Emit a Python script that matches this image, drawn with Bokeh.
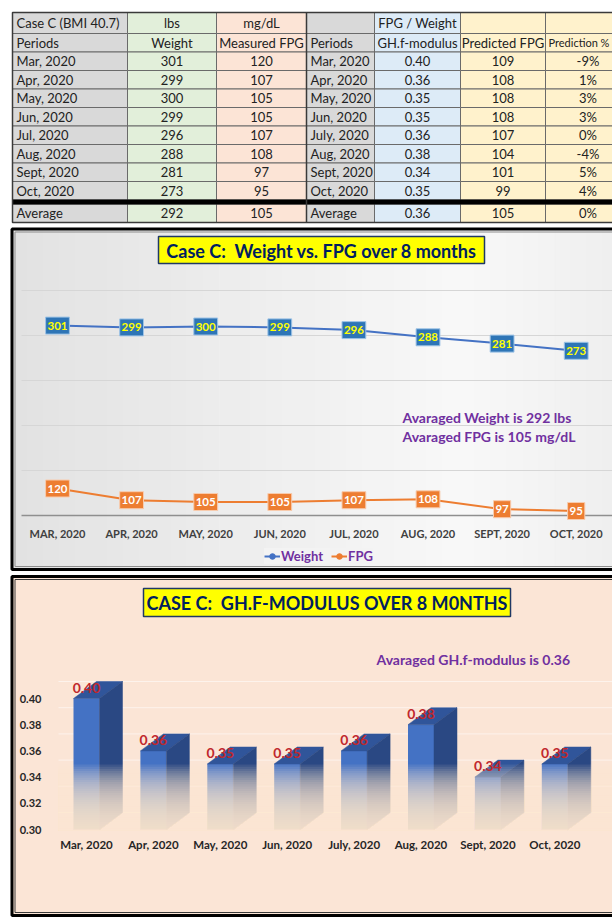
from bokeh.plotting import figure
from bokeh.layouts import column
from bokeh.models import (Range1d, LinearAxis, FixedTicker, Legend, LegendItem,
                          ColumnDataSource, PrintfTickFormatter)
from bokeh.embed import file_html
from bokeh.resources import INLINE
from bokeh.core.properties import value

# ---------------- data ----------------
table_head_top = ["Case C (BMI 40.7)", "lbs", "mg/dL", "", "FPG / Weight", "", ""]
table_head_sub = ["Periods", "Weight", "Measured FPG", "Periods", "GH.f-modulus",
                  "Predicted FPG", "Prediction %"]
periods_left = ["Mar, 2020", "Apr, 2020", "May, 2020", "Jun, 2020", "Jul, 2020",
                "Aug, 2020", "Sept, 2020", "Oct, 2020"]
periods_right = ["Mar, 2020", "Apr, 2020", "May, 2020", "Jun, 2020", "July, 2020",
                 "Aug, 2020", "Sept, 2020", "Oct, 2020"]
weight = [301, 299, 300, 299, 296, 288, 281, 273]
fpg = [120, 107, 105, 105, 107, 108, 97, 95]
gh_modulus = [0.40, 0.36, 0.35, 0.35, 0.36, 0.38, 0.34, 0.35]
predicted_fpg = [109, 108, 108, 108, 107, 104, 101, 99]
prediction_pct = ["-9%", "1%", "3%", "3%", "0%", "-4%", "5%", "4%"]
average_row = ["Average", "292", "105", "Average", "0.36", "105", "0%"]

line_months = ["MAR, 2020", "APR, 2020", "MAY, 2020", "JUN, 2020", "JUL, 2020",
               "AUG, 2020", "SEPT, 2020", "OCT, 2020"]
line_ticks = [90, 140, 190, 240, 290, 340]
bar_months = ["Mar, 2020", "Apr, 2020", "May, 2020", "Jun, 2020", "July, 2020",
              "Aug, 2020", "Sept, 2020", "Oct, 2020"]
bar_ticks = [0.30, 0.32, 0.34, 0.36, 0.38, 0.40]

avg_weight = 292
avg_fpg = 105
avg_modulus = 0.36

line_title = "Case C: \u00a0Weight vs. FPG over 8 months"
bar_title = "CASE C: \u00a0GH.F-MODULUS OVER 8 M0NTHS"

# ---------------- layout constants ----------------
W = 612
FONT = "Lato"
NAVY = "#002060"
PURPLE = "#7030A0"


def base_fig(h, xr, yr):
    p = figure(width=W, height=h, x_range=xr, y_range=yr, output_backend="svg",
               toolbar_location=None, x_axis_location=None, y_axis_location=None,
               min_border=0, min_border_left=0, min_border_right=0,
               min_border_top=0, min_border_bottom=0)
    p.outline_line_color = None
    p.grid.visible = False
    p.background_fill_color = "white"
    p.border_fill_color = "white"
    return p


def style_axis(ax, standoff, size, color):
    ax.axis_line_color = None
    ax.major_tick_line_color = None
    ax.minor_tick_line_color = None
    ax.major_tick_out = 0
    ax.major_tick_in = 0
    ax.minor_tick_out = 0
    ax.minor_tick_in = 0
    ax.major_label_standoff = standoff
    ax.major_label_text_font = FONT
    ax.major_label_text_font_style = "bold"
    ax.major_label_text_font_size = size
    ax.major_label_text_color = color


# ================= TABLE =================
H1 = 225
col_edges = [12, 127, 216, 306, 374, 460, 545, 640]
row_edges = [12, 33, 51.5, 70, 88.5, 107, 125.5, 144, 162.5, 181, 199.5]
band_edges = (199.5, 203.5)
avg_edges = (203.5, 222)
col_colors = ["#D9D9D9", "#E2EFDA", "#FCE4D6", "#D9D9D9", "#DDEBF7", "#FFF2CC", "#FFF2CC"]
left_aligned_cols = {0, 3}
col7_center = 587.5

rows = [table_head_top, table_head_sub]
for i in range(len(periods_left)):
    rows.append([periods_left[i], str(weight[i]), str(fpg[i]), periods_right[i],
                 f"{gh_modulus[i]:.2f}", str(predicted_fpg[i]), prediction_pct[i]])
rows.append(average_row)

cells = dict(l=[], r=[], t=[], b=[], c=[])
txt_l = dict(x=[], y=[], t=[], fs=[])
txt_c = dict(x=[], y=[], t=[], fs=[])
for ri, row in enumerate(rows):
    if ri < len(row_edges) - 1:
        top, bot = row_edges[ri], row_edges[ri + 1]
    else:
        top, bot = avg_edges
    for ci, txt in enumerate(row):
        l, r = col_edges[ci], col_edges[ci + 1]
        cells["l"].append(l); cells["r"].append(r)
        cells["t"].append(top); cells["b"].append(bot)
        cells["c"].append(col_colors[ci])
        yc = (top + bot) / 2
        if ci in left_aligned_cols:
            txt_l["x"].append(l + 4); txt_l["y"].append(yc); txt_l["t"].append(txt)
            txt_l["fs"].append("13px")
        elif ci == len(row) - 1 and len(txt) > 6:
            # long header in the last (cut) column: left aligned, slightly smaller
            txt_l["x"].append(l + 3); txt_l["y"].append(yc); txt_l["t"].append(txt)
            txt_l["fs"].append("11px")
        else:
            xc = col7_center if ci == len(row) - 1 else (l + r) / 2
            txt_c["x"].append(xc); txt_c["y"].append(yc); txt_c["t"].append(txt)
            txt_c["fs"].append("13px")

p1 = base_fig(H1, Range1d(0, W), Range1d(H1, 0))
p1.quad(left="l", right="r", top="t", bottom="b", fill_color="c",
        line_color="#6A6A6A", line_width=1, source=ColumnDataSource(cells))
p1.quad(left=[col_edges[0]], right=[col_edges[-1]], top=[band_edges[0]],
        bottom=[band_edges[1]], fill_color="black", line_color="black")
p1.quad(left=[col_edges[0]], right=[col_edges[-1]], top=[row_edges[0]],
        bottom=[avg_edges[1]], fill_color=None, line_color="#3A3A3A", line_width=1.5)
p1.segment(x0=[col_edges[3]], x1=[col_edges[3]], y0=[row_edges[0]], y1=[avg_edges[1]],
           line_color="#3A3A3A", line_width=1.5)
for src, align in ((txt_l, "left"), (txt_c, "center")):
    p1.text(x="x", y="y", text="t", source=ColumnDataSource(src), text_align=align,
            text_baseline="middle", text_font=value(FONT), text_font_size="fs",
            text_color="#222222")

# ================= LINE CHART =================
H2 = 349
X0_2, DX_2 = 57.0, 74.1          # px of first category, px per category
Y0_2, KY_2 = 290.0, 0.9          # px of axis minimum, px per unit
V0_2 = line_ticks[0]
idx = list(range(len(line_months)))

p2 = base_fig(H2, Range1d(-X0_2 / DX_2, (W - X0_2) / DX_2),
              Range1d(V0_2 - (H2 - Y0_2) / KY_2, V0_2 + Y0_2 / KY_2))
p2.extra_x_ranges = {"px": Range1d(0, W)}
p2.extra_y_ranges = {"px": Range1d(H2, 0)}

# gray gradient background
ns = 40
gx = [11 + (650 - 11) * k / ns for k in range(ns + 1)]
gcol = []
for k in range(ns):
    c = (gx[k] + gx[k + 1]) / 2
    L = 226 + 22 * (c - 10) / 450 if c < 460 else 248 - 9 * (c - 460) / 152
    L = int(round(L))
    gcol.append(f"#{L:02x}{L:02x}{L:02x}")
p2.quad(left=gx[:-1], right=gx[1:], top=[4] * ns, bottom=[343] * ns,
        fill_color=gcol, line_color=gcol, x_range_name="px", y_range_name="px")
# panel border
p2.quad(left=[11.5], right=[650], top=[3.5], bottom=[344], fill_color=None,
        line_color="black", line_width=3, x_range_name="px", y_range_name="px")
p2.quad(left=[14.5], right=[650], top=[6.5], bottom=[341], fill_color=None,
        line_color="#8C8C8C", line_width=1, x_range_name="px", y_range_name="px")

# gridlines + baseline
p2.segment(x0=[21] * (len(line_ticks) - 1), x1=[650] * (len(line_ticks) - 1),
           y0=line_ticks[1:], y1=line_ticks[1:], line_color="#D6D6D6", line_width=1,
           x_range_name="px")
p2.segment(x0=[21], x1=[650], y0=[V0_2], y1=[V0_2], line_color="#8F8F8F",
           line_width=1.5, x_range_name="px")

# title box
p2.quad(left=[158], right=[484], top=[11], bottom=[38], fill_color="#FFFF00",
        line_color="#1F3864", line_width=1.5, x_range_name="px", y_range_name="px")
p2.text(x=[321], y=[25], text=[line_title], text_align="center", text_baseline="middle",
        text_font=value(FONT), text_font_style="bold", text_font_size="18px",
        text_color=NAVY, x_range_name="px", y_range_name="px")

# series
BLUE, ORANGE = "#4472C4", "#ED7D31"
rw = p2.line(idx, weight, line_color=BLUE, line_width=2)
rwp = p2.scatter(idx, weight, size=7, color=BLUE)
rf = p2.line(idx, fpg, line_color=ORANGE, line_width=2)
rfp = p2.scatter(idx, fpg, size=7, color=ORANGE)

wsrc = ColumnDataSource(dict(x=idx, y=weight, t=[str(v) for v in weight],
                             w=[4 + 6.6 * len(str(v)) for v in weight]))
fsrc = ColumnDataSource(dict(x=idx, y=fpg, t=[str(v) for v in fpg],
                             w=[4 + 6.6 * len(str(v)) for v in fpg]))
p2.rect(x="x", y="y", width="w", height=17, width_units="screen", height_units="screen",
        fill_color="#2E75B6", line_color="#9DC3E6", line_width=1, source=wsrc)
p2.text(x="x", y="y", text="t", text_align="center", text_baseline="middle",
        text_font=value(FONT), text_font_style="bold", text_font_size="11.5px",
        text_color="#FFFF00", source=wsrc)
p2.rect(x="x", y="y", width="w", height=17, width_units="screen", height_units="screen",
        fill_color=ORANGE, line_color="#F8CBAD", line_width=1, source=fsrc)
p2.text(x="x", y="y", text="t", text_align="center", text_baseline="middle",
        text_font=value(FONT), text_font_style="bold", text_font_size="11.5px",
        text_color="white", source=fsrc)

# averages note
p2.text(x=[402, 402], y=[192, 211],
        text=[f"Avaraged Weight is {avg_weight} lbs", f"Avaraged FPG is {avg_fpg} mg/dL"],
        text_align="left", text_baseline="middle", text_font=value(FONT),
        text_font_style="bold", text_font_size="14px", text_color=PURPLE,
        x_range_name="px", y_range_name="px")

# x axis
xax2 = LinearAxis(fixed_location=V0_2, ticker=FixedTicker(ticks=idx),
                  major_label_overrides={i: m for i, m in zip(idx, line_months)})
style_axis(xax2, 11, "11px", "#404040")
p2.add_layout(xax2, "below")

leg = Legend(items=[LegendItem(label="Weight", renderers=[rw, rwp]),
                    LegendItem(label="FPG", renderers=[rf, rfp])],
             orientation="horizontal", location=(264, 10))
leg.label_text_font = FONT
leg.label_text_font_style = "bold"
leg.label_text_font_size = "13px"
leg.label_text_color = PURPLE
leg.background_fill_color = "#F3F3F3"
leg.background_fill_alpha = 1
leg.border_line_color = None
leg.glyph_width = 16
leg.glyph_height = 14
leg.label_height = 14
leg.label_standoff = 1
leg.spacing = 8
leg.padding = 3
leg.margin = 0
p2.add_layout(leg)

# ================= BAR CHART =================
H3 = 343
X0_3, DX_3 = 86.0, 66.9          # px of first bar centre, px per category
Y0_3, KY_3 = 255.0, 1310.0       # px of axis minimum, px per unit
V0_3 = bar_ticks[0]
PEACH = "#FBE5D6"

p3 = base_fig(H3, Range1d(-X0_3 / DX_3, (W - X0_3) / DX_3),
              Range1d(V0_3 - (H3 - Y0_3) / KY_3, V0_3 + Y0_3 / KY_3))
p3.extra_x_ranges = {"px": Range1d(0, W)}
p3.extra_y_ranges = {"px": Range1d(H3, 0)}

p3.quad(left=[11.5], right=[650], top=[2], bottom=[341], fill_color=PEACH, line_color=None,
        x_range_name="px", y_range_name="px")
p3.quad(left=[11.5], right=[650], top=[2], bottom=[341], fill_color=None,
        line_color="black", line_width=3, x_range_name="px", y_range_name="px")
p3.quad(left=[14.5], right=[650], top=[5], bottom=[338], fill_color=None,
        line_color="#3A3A3A", line_width=1, x_range_name="px", y_range_name="px")

fw = 26 / DX_3      # front face width
dx = 23 / DX_3      # depth, horizontal
dy = 17 / KY_3      # depth, vertical

# faint back-wall gridlines
p3.segment(x0=[58] * len(bar_ticks), x1=[612] * len(bar_ticks),
           y0=[t + dy for t in bar_ticks], y1=[t + dy for t in bar_ticks],
           line_color="white", line_alpha=0.55, line_width=1, x_range_name="px")

bidx = list(range(len(bar_months)))
p3.vbar(x=bidx, width=fw, bottom=V0_3, top=gh_modulus, fill_color="#4472C4", line_color=None)
top_xs = [[i - fw / 2, i + fw / 2, i + fw / 2 + dx, i - fw / 2 + dx] for i in bidx]
top_ys = [[v, v, v + dy, v + dy] for v in gh_modulus]
side_xs = [[i + fw / 2, i + fw / 2 + dx, i + fw / 2 + dx, i + fw / 2] for i in bidx]
side_ys = [[V0_3, V0_3 + dy, v + dy, v] for v in gh_modulus]
p3.patches(xs=top_xs, ys=top_ys, fill_color="#30559A", line_color="#30559A", line_width=0.5)
p3.patches(xs=side_xs, ys=side_ys, fill_color="#2A4883", line_color="#2A4883", line_width=0.5)

# fade of the bar bases into the background: overlapping translucent veils,
# each running down to the base, so opacity builds up smoothly without seams
nb = 30
fy0, fy1 = 190.0, Y0_3 + 1
ftops = [fy0 + (fy1 - fy0) * k / nb for k in range(nb)]
p3.quad(left=[58] * nb, right=[612] * nb, top=ftops, bottom=[fy1] * nb,
        fill_color=PEACH, fill_alpha=0.09, line_color=None,
        x_range_name="px", y_range_name="px")

p3.text(x=bidx, y=gh_modulus, text=[f"{v:.2f}" for v in gh_modulus], y_offset=-11,
        text_align="center", text_baseline="middle", text_font=value(FONT),
        text_font_style="bold", text_font_size="14px", text_color="#C0282D")

# title box
p3.quad(left=[143], right=[510], top=[14], bottom=[42], fill_color="#FFFF00",
        line_color="#1F3864", line_width=1.5, x_range_name="px", y_range_name="px")
p3.text(x=[326.5], y=[28.5], text=[bar_title], text_align="center", text_baseline="middle",
        text_font=value(FONT), text_font_style="bold", text_font_size="18px",
        text_color=NAVY, x_range_name="px", y_range_name="px")

p3.text(x=[376], y=[85], text=[f"Avaraged GH.f-modulus is {avg_modulus:.2f}"],
        text_align="left", text_baseline="middle", text_font=value(FONT),
        text_font_style="bold", text_font_size="14px", text_color=PURPLE,
        x_range_name="px", y_range_name="px")

yax3 = LinearAxis(fixed_location=(44 - X0_3) / DX_3, ticker=FixedTicker(ticks=bar_ticks),
                  formatter=PrintfTickFormatter(format="%.2f"))
style_axis(yax3, 3, "11px", "#262626")
p3.add_layout(yax3, "left")

xax3 = LinearAxis(fixed_location=V0_3, ticker=FixedTicker(ticks=bidx),
                  major_label_overrides={i: m for i, m in zip(bidx, bar_months)})
style_axis(xax3, 8, "11.5px", "#262626")
p3.add_layout(xax3, "below")

layout = column(p1, p2, p3, spacing=0)
open("out.html", "w").write(file_html(layout, INLINE, title="Case C"))
